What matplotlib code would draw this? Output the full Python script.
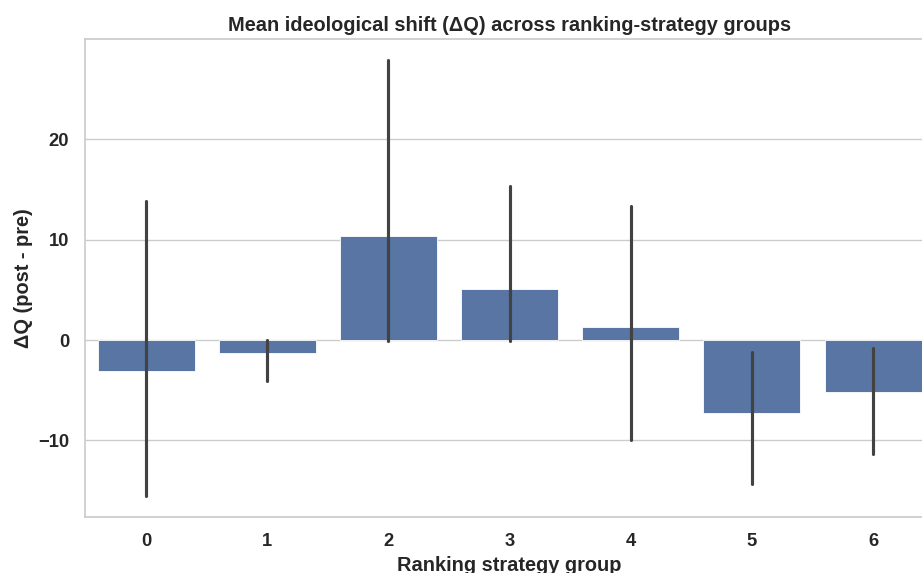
import matplotlib
matplotlib.use("Agg")
import matplotlib.pyplot as plt
import seaborn as sns
import numpy as np

# Group means of the ideological shift and their confidence intervals
groups = ["0", "1", "2", "3", "4", "5", "6"]
mean_shift = [-3.05, -1.3, 10.35, 5.1, 1.35, -7.3, -5.2]
ci_low = [-15.5, -4.1, -0.05, -0.05, -10.0, -14.3, -11.4]
ci_high = [13.9, 0.05, 27.9, 15.3, 13.4, -1.2, -0.75]

sns.set_theme(style="whitegrid", font_scale=1.2)
plt.rcParams["font.family"] = ["Liberation Sans", "DejaVu Sans"]
plt.rcParams["font.weight"] = "bold"
plt.rcParams["axes.labelweight"] = "bold"
plt.rcParams["axes.titleweight"] = "bold"

fig = plt.figure(figsize=(9.22, 5.73), dpi=100)
ax = fig.add_axes([0.0927, 0.0982, 0.9199, 0.833])

x = np.arange(len(groups))
bar_color = sns.desaturate(sns.color_palette("deep")[0], 0.75)
ax.bar(x, mean_shift, width=0.8, color=bar_color, edgecolor="white",
       linewidth=0.6, zorder=2)
ax.vlines(x, ci_low, ci_high, color=".26", linewidth=2.25,
          capstyle="round", zorder=3)

ax.set_xlim(-0.5, len(groups) - 0.5)
ax.set_ylim(-17.6, 29.95)
ax.set_yticks([-10, 0, 10, 20])
ax.set_xticks(x)
ax.set_xticklabels(groups)
ax.tick_params(axis="x", colors=".15", pad=plt.rcParams["xtick.major.pad"] + 2.2)
ax.tick_params(axis="y", colors=".15", pad=plt.rcParams["ytick.major.pad"] + 2.2)
ax.grid(axis="x", visible=False)
ax.set_axisbelow(True)

ax.set_title("Mean ideological shift (ΔQ) across ranking-strategy groups",
             color=".15")
ax.set_xlabel("Ranking strategy group", color=".15")
ax.set_ylabel("ΔQ (post - pre)", color=".15")

fig.savefig("out.png", dpi=100)
